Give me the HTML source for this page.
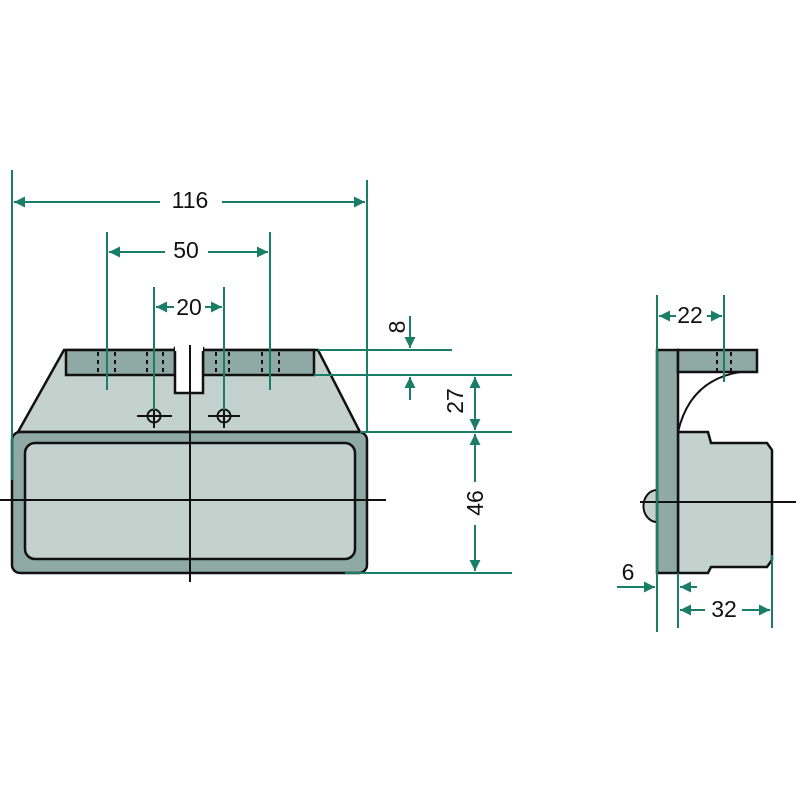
<!DOCTYPE html>
<html><head><meta charset="utf-8"><style>
html,body{margin:0;padding:0;background:#fff;width:800px;height:800px;overflow:hidden}
svg{display:block}
text{font-family:"Liberation Sans",sans-serif;font-size:23px;fill:#111}
</style></head><body>
<svg width="800" height="800" viewBox="0 0 800 800" xmlns="http://www.w3.org/2000/svg">
<defs>
<marker id="a" viewBox="0 0 10 10" refX="10" refY="5" markerWidth="16" markerHeight="11" markerUnits="userSpaceOnUse" orient="auto-start-reverse">
<path d="M0,0 L10,5 L0,10 z" fill="#1a7d68"/></marker>
</defs>
<!-- FRONT VIEW -->
<path d="M64,350 L318,350 L360,432 L18,432 Z" fill="#c4d2ce" stroke="#111" stroke-width="2.5"/>
<rect x="66" y="350" width="109" height="25" fill="#8fa9a5" stroke="#111" stroke-width="2.5"/>
<rect x="203" y="350" width="111" height="25" fill="#8fa9a5" stroke="#111" stroke-width="2.5"/>
<path d="M175,348 L175,393 L203,393 L203,348 Z" fill="#fff" stroke="#111" stroke-width="2.5"/>
<rect x="175" y="346" width="28" height="5" fill="#fff"/>
<g stroke="#111" stroke-width="2" stroke-dasharray="4,4">
<line x1="98" y1="352" x2="98" y2="374"/><line x1="115" y1="352" x2="115" y2="374"/>
<line x1="147" y1="352" x2="147" y2="374"/><line x1="163" y1="352" x2="163" y2="374"/>
<line x1="216" y1="352" x2="216" y2="374"/><line x1="229" y1="352" x2="229" y2="374"/>
<line x1="262" y1="352" x2="262" y2="374"/><line x1="279" y1="352" x2="279" y2="374"/>
</g>
<rect x="12" y="432" width="355" height="141" rx="8" fill="#8fa9a5" stroke="#111" stroke-width="2.5"/>
<rect x="25" y="443" width="330" height="116" rx="10" fill="#c4d2ce" stroke="#111" stroke-width="2.5"/>
<g stroke="#111" stroke-width="2" fill="none">
<line x1="190" y1="345" x2="190" y2="582"/>
<line x1="0" y1="500" x2="386" y2="500"/>
<circle cx="154" cy="416" r="6.5"/><line x1="137" y1="416" x2="172" y2="416"/><line x1="154" y1="405" x2="154" y2="428"/>
<circle cx="224" cy="416" r="6.5"/><line x1="208" y1="416" x2="240" y2="416"/><line x1="224" y1="405" x2="224" y2="428"/>
</g>
<!-- dims front -->
<g stroke="#1a7d68" stroke-width="2" fill="none">
<line x1="12" y1="170" x2="12" y2="480"/>
<line x1="367" y1="180" x2="367" y2="432"/>
<line x1="14" y1="202" x2="160" y2="202" marker-start="url(#a)"/>
<line x1="222" y1="202" x2="365" y2="202" marker-end="url(#a)"/>
<line x1="107" y1="232" x2="107" y2="390"/>
<line x1="270" y1="232" x2="270" y2="390"/>
<line x1="109" y1="252" x2="165" y2="252" marker-start="url(#a)"/>
<line x1="208" y1="252" x2="268" y2="252" marker-end="url(#a)"/>
<line x1="154" y1="287" x2="154" y2="410"/>
<line x1="224" y1="287" x2="224" y2="410"/>
<line x1="156" y1="307" x2="174" y2="307" marker-start="url(#a)"/>
<line x1="205" y1="307" x2="222" y2="307" marker-end="url(#a)"/>
<line x1="318" y1="350" x2="452" y2="350"/>
<line x1="314" y1="375" x2="512" y2="375"/>
<line x1="360" y1="432" x2="512" y2="432"/>
<line x1="345" y1="573" x2="512" y2="573"/>
<line x1="410" y1="316" x2="410" y2="348" marker-end="url(#a)"/>
<line x1="410" y1="400" x2="410" y2="377" marker-end="url(#a)"/>
<line x1="475" y1="377" x2="475" y2="430" marker-start="url(#a)" marker-end="url(#a)"/>
<line x1="475" y1="434" x2="475" y2="482" marker-start="url(#a)"/>
<line x1="475" y1="525" x2="475" y2="571" marker-end="url(#a)"/>
</g>
<text x="190" y="208" text-anchor="middle">116</text>
<text x="186" y="258" text-anchor="middle">50</text>
<text x="189" y="315" text-anchor="middle">20</text>
<text transform="translate(405,327) rotate(-90)" text-anchor="middle">8</text>
<text transform="translate(463,401) rotate(-90)" text-anchor="middle">27</text>
<text transform="translate(483,503) rotate(-90)" text-anchor="middle">46</text>
<!-- SIDE VIEW -->
<path d="M657,490 A11,13 0 0 0 657,522 Z" fill="#c4d2ce" stroke="#111" stroke-width="2"/>
<path d="M678,432 L708,432 L711,443 L767,443 L772,450 L772,560 L767,567 L711,567 L708,573 L678,573 Z" fill="#c4d2ce" stroke="#111" stroke-width="2.5"/>
<rect x="657" y="350" width="21" height="223" fill="#8fa9a5" stroke="#111" stroke-width="2.5"/>
<rect x="678" y="350" width="79" height="22" fill="#8fa9a5" stroke="#111" stroke-width="2.5"/>
<path d="M740,372 Q690,380 678,432" fill="none" stroke="#111" stroke-width="2"/>
<g stroke="#111" stroke-width="2" stroke-dasharray="4,4">
<line x1="717" y1="352" x2="717" y2="371"/><line x1="731" y1="352" x2="731" y2="371"/>
</g>
<line x1="640" y1="502" x2="796" y2="502" stroke="#111" stroke-width="2"/>
<g stroke="#1a7d68" stroke-width="2" fill="none">
<line x1="657" y1="295" x2="657" y2="632"/>
<line x1="724" y1="295" x2="724" y2="382"/>
<line x1="659" y1="316" x2="676" y2="316" marker-start="url(#a)"/>
<line x1="707" y1="316" x2="722" y2="316" marker-end="url(#a)"/>
<line x1="678" y1="573" x2="678" y2="628"/>
<line x1="772" y1="555" x2="772" y2="628"/>
<line x1="617" y1="587" x2="655" y2="587" marker-end="url(#a)"/>
<line x1="697" y1="587" x2="680" y2="587" marker-end="url(#a)"/>
<line x1="680" y1="610" x2="705" y2="610" marker-start="url(#a)"/>
<line x1="742" y1="610" x2="770" y2="610" marker-end="url(#a)"/>
</g>
<text x="690" y="323" text-anchor="middle">22</text>
<text x="628" y="580" text-anchor="middle">6</text>
<text x="724" y="617" text-anchor="middle">32</text>
</svg>
</body></html>
